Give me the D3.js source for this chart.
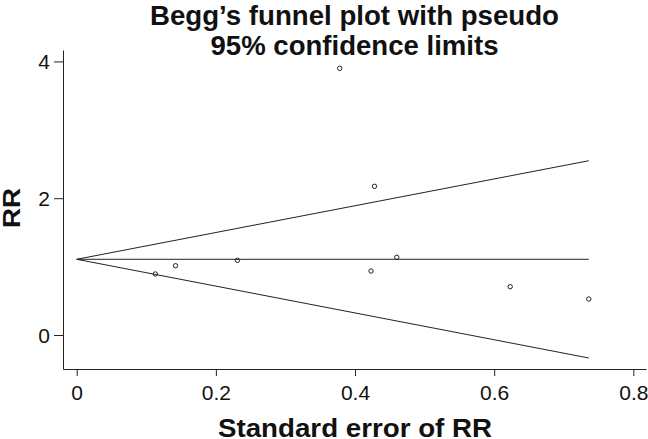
<!DOCTYPE html>
<html>
<head>
<meta charset="utf-8">
<script src="https://cdn.jsdelivr.net/npm/d3@7"></script>
<style>
  html, body { margin: 0; padding: 0; background: #fff; }
  svg { display: block; }
  text { font-family: "Liberation Sans", Arial, Helvetica, sans-serif; fill: #111; }
</style>
</head>
<body>
<svg id="chart" width="648" height="439"></svg>
<script>
// Study data: standard error of RR and RR
const studySE = [0.113, 0.142, 0.231, 0.378, 0.423, 0.428, 0.460, 0.623, 0.736];
const studyRR = [0.892, 1.013, 1.092, 3.899, 0.936, 2.174, 1.136, 0.706, 0.526];

// Funnel (pseudo 95% confidence limits)
const funnelSE    = [0, 0.736];
const funnelMid   = [1.107, 1.107];
const funnelUpper = [1.107, 2.548];
const funnelLower = [1.107, -0.336];

// Ticks
const xTicks = [0, 0.2, 0.4, 0.6, 0.8];
const xTickLabels = ["0", "0.2", "0.4", "0.6", "0.8"];
const yTicks = [0, 2, 4];
const yTickLabels = ["0", "2", "4"];

const titleLines = ["Begg\u2019s funnel plot with pseudo", "95% confidence limits"];
const xTitle = "Standard error of RR";
const yTitle = "RR";

const svg = d3.select("#chart");
const ink = "#222";

const x = d3.scaleLinear().domain([-0.0197, 0.8182]).range([63, 646]);
const y = d3.scaleLinear().domain([-0.497, 4.167]).range([369, 50]);

// Axes
const xAxis = d3.axisBottom(x)
  .tickValues(xTicks)
  .tickFormat((d, i) => xTickLabels[i])
  .tickSize(7)
  .tickSizeOuter(0);
const gx = svg.append("g").attr("transform", `translate(0,${y.range()[0]})`).call(xAxis);
gx.selectAll("path, line").attr("stroke", ink).attr("stroke-width", 1);
gx.selectAll("text")
  .attr("y", 31).attr("dy", null)
  .style("font-size", "21px").attr("fill", "#111");

const yAxis = d3.axisLeft(y)
  .tickValues(yTicks)
  .tickFormat((d, i) => yTickLabels[i])
  .tickSize(9)
  .tickSizeOuter(0);
const gy = svg.append("g").attr("transform", `translate(${x.range()[0]},0)`).call(yAxis);
gy.selectAll("path, line").attr("stroke", ink).attr("stroke-width", 1);
gy.selectAll("text")
  .attr("x", -13).attr("dy", "0.35em")
  .style("font-size", "21px").attr("fill", "#111");
svg.selectAll(".domain").attr("fill", "none");

// Funnel lines
const line = d3.line().x(d => x(d[0])).y(d => y(d[1]));
[funnelUpper, funnelMid, funnelLower].forEach(ys => {
  svg.append("path")
    .datum(funnelSE.map((s, i) => [s, ys[i]]))
    .attr("d", line)
    .attr("fill", "none")
    .attr("stroke", ink)
    .attr("stroke-width", 1);
});

// Study points
svg.append("g").selectAll("circle")
  .data(studySE.map((s, i) => [s, studyRR[i]]))
  .join("circle")
  .attr("cx", d => x(d[0]))
  .attr("cy", d => y(d[1]))
  .attr("r", 2.2)
  .attr("fill", "none")
  .attr("stroke", ink)
  .attr("stroke-width", 1);

// Title
const titleBaselines = [24.5, 54.5];
const titleWidths = [409, 288];
titleLines.forEach((t, i) => {
  svg.append("text")
    .attr("x", 354.5)
    .attr("y", titleBaselines[i])
    .attr("text-anchor", "middle")
    .attr("textLength", titleWidths[i])
    .attr("lengthAdjust", "spacingAndGlyphs")
    .style("font-size", "27px")
    .style("font-weight", "bold")
    .text(t);
});

// Axis titles
svg.append("text")
  .attr("x", 355)
  .attr("y", 437)
  .attr("text-anchor", "middle")
  .attr("textLength", 274)
  .attr("lengthAdjust", "spacingAndGlyphs")
  .style("font-size", "25px")
  .style("font-weight", "bold")
  .text(xTitle);

svg.append("text")
  .attr("transform", "translate(20,208) rotate(-90)")
  .attr("text-anchor", "middle")
  .attr("textLength", 40)
  .attr("lengthAdjust", "spacingAndGlyphs")
  .style("font-size", "24px")
  .style("font-weight", "bold")
  .text(yTitle);
</script>
</body>
</html>
